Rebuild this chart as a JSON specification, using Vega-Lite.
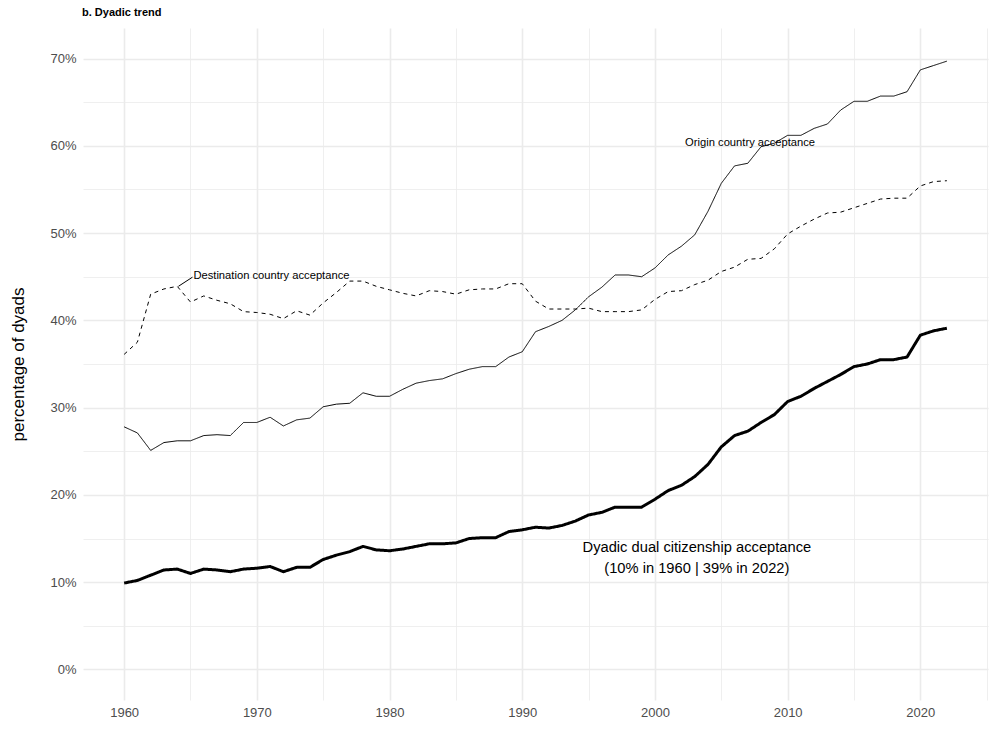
{
  "$schema": "https://vega.github.io/schema/vega-lite/v6.json",
  "width": 905,
  "height": 672,
  "autosize": {"type": "none"},
  "padding": {"left": 83, "top": 28, "right": 12, "bottom": 50},
  "background": "white",
  "title": {"text": "b. Dyadic trend", "anchor": "start", "frame": "group", "fontSize": 11, "fontWeight": "bold", "font": "Liberation Sans", "color": "black", "offset": 10, "dx": -1},
  "config": {
    "view": {"stroke": null},
    "font": "Liberation Sans",
    "axis": {"domain": false, "ticks": false, "labelFont": "Liberation Sans", "labelFontSize": 13, "labelColor": "#4d4d4d", "gridColor": "#ebebeb"}
  },
  "datasets": {
    "trend": [
      {"year": 1960, "Dyadic": 0.099, "Origin": 0.278, "Destination": 0.361},
      {"year": 1961, "Dyadic": 0.102, "Origin": 0.271, "Destination": 0.375},
      {"year": 1962, "Dyadic": 0.108, "Origin": 0.251, "Destination": 0.430},
      {"year": 1963, "Dyadic": 0.114, "Origin": 0.260, "Destination": 0.436},
      {"year": 1964, "Dyadic": 0.115, "Origin": 0.262, "Destination": 0.439},
      {"year": 1965, "Dyadic": 0.110, "Origin": 0.262, "Destination": 0.421},
      {"year": 1966, "Dyadic": 0.115, "Origin": 0.268, "Destination": 0.428},
      {"year": 1967, "Dyadic": 0.114, "Origin": 0.269, "Destination": 0.423},
      {"year": 1968, "Dyadic": 0.112, "Origin": 0.268, "Destination": 0.419},
      {"year": 1969, "Dyadic": 0.115, "Origin": 0.283, "Destination": 0.410},
      {"year": 1970, "Dyadic": 0.116, "Origin": 0.283, "Destination": 0.409},
      {"year": 1971, "Dyadic": 0.118, "Origin": 0.289, "Destination": 0.407},
      {"year": 1972, "Dyadic": 0.112, "Origin": 0.279, "Destination": 0.402},
      {"year": 1973, "Dyadic": 0.117, "Origin": 0.286, "Destination": 0.411},
      {"year": 1974, "Dyadic": 0.117, "Origin": 0.288, "Destination": 0.406},
      {"year": 1975, "Dyadic": 0.126, "Origin": 0.301, "Destination": 0.420},
      {"year": 1976, "Dyadic": 0.131, "Origin": 0.304, "Destination": 0.432},
      {"year": 1977, "Dyadic": 0.135, "Origin": 0.305, "Destination": 0.445},
      {"year": 1978, "Dyadic": 0.141, "Origin": 0.317, "Destination": 0.445},
      {"year": 1979, "Dyadic": 0.137, "Origin": 0.313, "Destination": 0.439},
      {"year": 1980, "Dyadic": 0.136, "Origin": 0.313, "Destination": 0.435},
      {"year": 1981, "Dyadic": 0.138, "Origin": 0.321, "Destination": 0.431},
      {"year": 1982, "Dyadic": 0.141, "Origin": 0.328, "Destination": 0.428},
      {"year": 1983, "Dyadic": 0.144, "Origin": 0.331, "Destination": 0.434},
      {"year": 1984, "Dyadic": 0.144, "Origin": 0.333, "Destination": 0.433},
      {"year": 1985, "Dyadic": 0.145, "Origin": 0.339, "Destination": 0.430},
      {"year": 1986, "Dyadic": 0.150, "Origin": 0.344, "Destination": 0.435},
      {"year": 1987, "Dyadic": 0.151, "Origin": 0.347, "Destination": 0.436},
      {"year": 1988, "Dyadic": 0.151, "Origin": 0.347, "Destination": 0.436},
      {"year": 1989, "Dyadic": 0.158, "Origin": 0.358, "Destination": 0.442},
      {"year": 1990, "Dyadic": 0.160, "Origin": 0.364, "Destination": 0.442},
      {"year": 1991, "Dyadic": 0.163, "Origin": 0.387, "Destination": 0.422},
      {"year": 1992, "Dyadic": 0.162, "Origin": 0.393, "Destination": 0.413},
      {"year": 1993, "Dyadic": 0.165, "Origin": 0.400, "Destination": 0.413},
      {"year": 1994, "Dyadic": 0.170, "Origin": 0.412, "Destination": 0.413},
      {"year": 1995, "Dyadic": 0.177, "Origin": 0.427, "Destination": 0.414},
      {"year": 1996, "Dyadic": 0.180, "Origin": 0.438, "Destination": 0.410},
      {"year": 1997, "Dyadic": 0.186, "Origin": 0.452, "Destination": 0.410},
      {"year": 1998, "Dyadic": 0.186, "Origin": 0.452, "Destination": 0.410},
      {"year": 1999, "Dyadic": 0.186, "Origin": 0.450, "Destination": 0.412},
      {"year": 2000, "Dyadic": 0.195, "Origin": 0.460, "Destination": 0.424},
      {"year": 2001, "Dyadic": 0.205, "Origin": 0.475, "Destination": 0.433},
      {"year": 2002, "Dyadic": 0.211, "Origin": 0.485, "Destination": 0.434},
      {"year": 2003, "Dyadic": 0.221, "Origin": 0.498, "Destination": 0.441},
      {"year": 2004, "Dyadic": 0.235, "Origin": 0.525, "Destination": 0.446},
      {"year": 2005, "Dyadic": 0.255, "Origin": 0.557, "Destination": 0.456},
      {"year": 2006, "Dyadic": 0.268, "Origin": 0.577, "Destination": 0.461},
      {"year": 2007, "Dyadic": 0.273, "Origin": 0.580, "Destination": 0.470},
      {"year": 2008, "Dyadic": 0.283, "Origin": 0.599, "Destination": 0.471},
      {"year": 2009, "Dyadic": 0.292, "Origin": 0.603, "Destination": 0.482},
      {"year": 2010, "Dyadic": 0.307, "Origin": 0.612, "Destination": 0.499},
      {"year": 2011, "Dyadic": 0.313, "Origin": 0.612, "Destination": 0.508},
      {"year": 2012, "Dyadic": 0.322, "Origin": 0.620, "Destination": 0.516},
      {"year": 2013, "Dyadic": 0.330, "Origin": 0.625, "Destination": 0.523},
      {"year": 2014, "Dyadic": 0.338, "Origin": 0.641, "Destination": 0.524},
      {"year": 2015, "Dyadic": 0.347, "Origin": 0.651, "Destination": 0.529},
      {"year": 2016, "Dyadic": 0.350, "Origin": 0.651, "Destination": 0.534},
      {"year": 2017, "Dyadic": 0.355, "Origin": 0.657, "Destination": 0.539},
      {"year": 2018, "Dyadic": 0.355, "Origin": 0.657, "Destination": 0.540},
      {"year": 2019, "Dyadic": 0.358, "Origin": 0.662, "Destination": 0.540},
      {"year": 2020, "Dyadic": 0.383, "Origin": 0.687, "Destination": 0.554},
      {"year": 2021, "Dyadic": 0.388, "Origin": 0.692, "Destination": 0.559},
      {"year": 2022, "Dyadic": 0.391, "Origin": 0.697, "Destination": 0.560}
    ],
    "smallLabels": [
      {"year": 1971.1, "value": 0.4505, "text": "Destination country acceptance"},
      {"year": 2007.17, "value": 0.6037, "text": "Origin country acceptance"}
    ],
    "bigLabel": [
      {"year": 2003.16, "value": 0.139, "text": ["Dyadic dual citizenship acceptance", "(10% in 1960 | 39% in 2022)"]}
    ],
    "leader": [
      {"year": 1964.09, "value": 0.439, "year2": 1965.15, "value2": 0.4495}
    ]
  },
  "layer": [
    {
      "data": {"name": "trend"},
      "transform": [{"fold": ["Dyadic", "Origin", "Destination"], "as": ["series", "share"]}],
      "mark": {"type": "line", "color": "black", "strokeCap": "butt", "strokeJoin": "round"},
      "encoding": {
        "x": {"field": "year", "type": "quantitative", "scale": {"domain": [1956.9, 2025.1], "nice": false, "zero": false},
          "axis": {"title": null, "values": [1960, 1965, 1970, 1975, 1980, 1985, 1990, 1995, 2000, 2005, 2010, 2015, 2020, 2025], "labelExpr": "datum.value % 10 === 0 ? datum.value : ''", "labelPadding": 6, "labelFlush": false, "labelOverlap": false,
            "gridWidth": {"condition": {"test": "datum.value % 10 === 0", "value": 1.6}, "value": 0.8}}},
        "y": {"field": "share", "type": "quantitative", "scale": {"domain": [-0.035, 0.735], "nice": false, "zero": false},
          "axis": {"title": "percentage of dyads", "titleFont": "Liberation Sans", "titleFontSize": 17, "titleFontWeight": "normal", "titleColor": "black", "titleX": -65, "titleY": 336, "titleAngle": -90, "titleBaseline": "middle", "titleAlign": "center",
            "values": [0, 0.05, 0.1, 0.15, 0.2, 0.25, 0.3, 0.35, 0.4, 0.45, 0.5, 0.55, 0.6, 0.65, 0.7], "format": ".0%", "labelExpr": "round(datum.value * 100) % 10 === 0 ? datum.label : ''", "labelPadding": 7, "labelFlush": false, "labelOverlap": false,
            "gridWidth": {"condition": {"test": "round(datum.value * 100) % 10 === 0", "value": 1.6}, "value": 0.8}}},
        "detail": {"field": "series"},
        "strokeDash": {"field": "series", "type": "nominal", "scale": {"type": "ordinal", "domain": ["Dyadic", "Origin", "Destination"], "range": [[1, 0], [1, 0], [4, 4]]}, "legend": null},
        "strokeWidth": {"field": "series", "type": "nominal", "scale": {"type": "ordinal", "domain": ["Dyadic", "Origin", "Destination"], "range": [3, 1, 1]}, "legend": null}
      }
    },
    {
      "data": {"name": "leader"},
      "mark": {"type": "rule", "color": "black", "strokeWidth": 1},
      "encoding": {
        "x": {"field": "year", "type": "quantitative"},
        "y": {"field": "value", "type": "quantitative"},
        "x2": {"field": "year2"},
        "y2": {"field": "value2"}
      }
    },
    {
      "data": {"name": "smallLabels"},
      "mark": {"type": "text", "font": "Liberation Sans", "fontSize": 11.2, "color": "black", "align": "center", "baseline": "middle"},
      "encoding": {
        "x": {"field": "year", "type": "quantitative"},
        "y": {"field": "value", "type": "quantitative"},
        "text": {"field": "text"}
      }
    },
    {
      "data": {"name": "bigLabel"},
      "mark": {"type": "text", "font": "Liberation Sans", "fontSize": 14.7, "lineHeight": 21, "color": "black", "align": "center", "baseline": "middle"},
      "encoding": {
        "x": {"field": "year", "type": "quantitative"},
        "y": {"field": "value", "type": "quantitative"},
        "text": {"field": "text"}
      }
    }
  ]
}
